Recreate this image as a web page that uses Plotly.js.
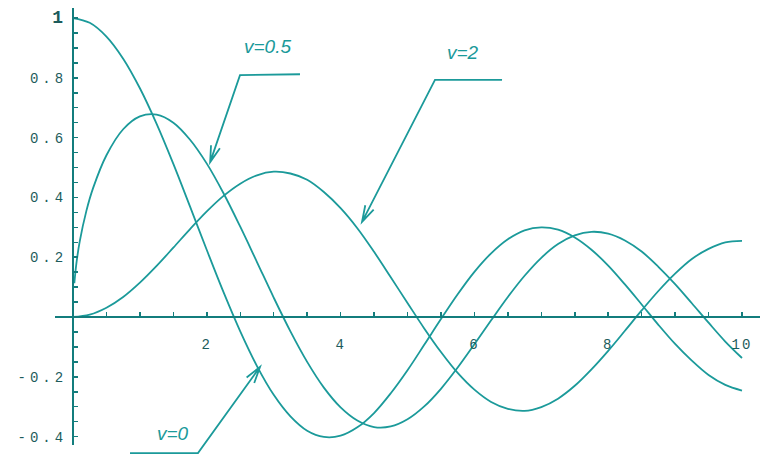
<!DOCTYPE html>
<html>
<head>
<meta charset="utf-8">
<script src="https://cdn.plot.ly/plotly-3.0.1.min.js"></script>
<style>
  html, body { margin: 0; padding: 0; background: #fff; }
  #chart { width: 761px; height: 460px; }
  .ytick text { letter-spacing: 4px; }
  .xtick text { letter-spacing: 2px; }
</style>
</head>
<body>
<div id="chart"></div>
<script>
// values (x step 0.25)
const xs = [0, 0.25, 0.5, 0.75, 1, 1.25, 1.5, 1.75, 2, 2.25, 2.5, 2.75, 3, 3.25, 3.5, 3.75,
    4, 4.25, 4.5, 4.75, 5, 5.25, 5.5, 5.75, 6, 6.25, 6.5, 6.75, 7, 7.25, 7.5, 7.75,
    8, 8.25, 8.5, 8.75, 9, 9.25, 9.5, 9.75, 10];

const nu0 = [1.000, 0.984, 0.938, 0.864, 0.765, 0.646, 0.512, 0.369, 0.224, 0.083, -0.048, -0.164,
    -0.260, -0.332, -0.380, -0.401, -0.397, -0.369, -0.321, -0.255, -0.178, -0.093, -0.007, 0.076,
    0.151, 0.213, 0.260, 0.290, 0.300, 0.292, 0.266, 0.225, 0.172, 0.109, 0.042, -0.026,
    -0.090, -0.146, -0.194, -0.227, -0.246];

const nu2 = [0.000, 0.008, 0.031, 0.067, 0.115, 0.171, 0.232, 0.294, 0.353, 0.405, 0.446, 0.474,
    0.486, 0.480, 0.459, 0.418, 0.364, 0.297, 0.218, 0.133, 0.047, -0.038, -0.117, -0.187,
    -0.243, -0.284, -0.307, -0.314, -0.301, -0.273, -0.230, -0.175, -0.113, -0.046, 0.022, 0.087,
    0.145, 0.194, 0.228, 0.250, 0.255];

// the v=0.5 curve starts just off the axis and climbs steeply
const xsHalf = [0.02, 0.05, 0.1, 0.2, 0.3, 0.5, 0.75, 1, 1.25, 1.5, 1.75, 2, 2.25, 2.5, 2.75, 3, 3.25, 3.5, 3.75,
    4, 4.25, 4.5, 4.75, 5, 5.25, 5.5, 5.75, 6, 6.25, 6.5, 6.75, 7, 7.25, 7.5, 7.75,
    8, 8.25, 8.5, 8.75, 9, 9.25, 9.5, 9.75, 10];
const nuHalf = [0.113, 0.178, 0.252, 0.355, 0.431, 0.541, 0.628, 0.671, 0.677, 0.650, 0.593, 0.513, 0.414,
    0.302, 0.184, 0.065, -0.048, -0.150, -0.236, -0.302, -0.346, -0.368, -0.366, -0.342, -0.299, -0.240,
    -0.169, -0.091, -0.011, 0.067, 0.138, 0.198, 0.244, 0.273, 0.285, 0.279, 0.256, 0.219, 0.168,
    0.110, 0.046, -0.019, -0.082, -0.137];

const xTicks = [2, 4, 6, 8, 10];
const yTicks = [-0.4, -0.2, 0.2, 0.4, 0.6, 0.8, 1];
const yTickText = ['-0.4', '-0.2', '0.2', '0.4', '0.6', '0.8', '<span style="font-size:18px"><b>1</b></span>'];

// labels with their bent leader lines: [label end, bend, arrow tip] in data units
const labels = ['v=0.5', 'v=2', 'v=0'];
const labelPos = [[2.90, 0.905], [5.83, 0.885], [1.50, -0.388]];
const leaders = [
    [[3.393, 0.812], [2.496, 0.809], [2.05, 0.518]],
    [[6.413, 0.793], [5.411, 0.793], [4.32, 0.318]],
    [[0.852, -0.455], [1.868, -0.455], [2.795, -0.167]]
];

const curveColor = '#1b9a9a';
const axisColor = '#137d7d';
const textColor = '#1d5c5c';

const xRange = [-0.269, 10.269];
const yRange = [-0.428, 1.0335];
const plotW = 705, plotH = 437;

function curve(x, y) {
    return {
        x: x, y: y,
        type: 'scatter', mode: 'lines',
        line: { color: curveColor, width: 1.8, shape: 'spline', smoothing: 1 },
        hoverinfo: 'skip'
    };
}

// data units -> paper fraction, so the leaders may run outside the plot box
function px(p) {
    return [(p[0] - xRange[0]) / (xRange[1] - xRange[0]) * plotW,
            (p[1] - yRange[0]) / (yRange[1] - yRange[0]) * plotH];
}
function paper(q) {
    return (q[0] / plotW).toFixed(4) + ',' + (q[1] / plotH).toFixed(4);
}

function leaderPath(pts) {
    const a = px(pts[0]), b = px(pts[1]), h = px(pts[2]);
    let dx = b[0] - h[0], dy = b[1] - h[1];
    const len = Math.hypot(dx, dy);
    dx /= len; dy /= len;
    const c = Math.cos(0.28), s = Math.sin(0.28), arm = 17;
    const l = [h[0] + arm * (dx * c - dy * s), h[1] + arm * (dx * s + dy * c)];
    const r = [h[0] + arm * (dx * c + dy * s), h[1] + arm * (-dx * s + dy * c)];
    return 'M' + paper(a) + ' L' + paper(b) + ' L' + paper(h) +
        ' M' + paper(l) + ' L' + paper(h) + ' L' + paper(r);
}

const data = [curve(xs, nu0), curve(xsHalf, nuHalf), curve(xs, nu2)];

const labelFont = { family: 'Liberation Sans, Arial, sans-serif', size: 19, color: curveColor };
const tickFont = { family: 'Liberation Mono, monospace', size: 14, color: textColor };

const layout = {
    width: 761, height: 460,
    margin: { l: 55, r: 1, t: 8, b: 15 },
    paper_bgcolor: '#ffffff',
    plot_bgcolor: '#ffffff',
    showlegend: false,
    xaxis: {
        range: xRange,
        anchor: 'free', position: 0.293,
        showgrid: false, zeroline: false,
        showline: true, linecolor: axisColor, linewidth: 2,
        tickmode: 'array', tickvals: xTicks,
        ticks: 'inside', ticklen: 4, tickwidth: 1.5, tickcolor: axisColor,
        minor: { dtick: 0.5, ticks: 'inside', ticklen: 4, tickwidth: 1.5, tickcolor: axisColor },
        ticklabelstandoff: 14,
        tickfont: tickFont
    },
    yaxis: {
        range: yRange,
        anchor: 'free', position: 0.0255,
        showgrid: false, zeroline: false,
        showline: true, linecolor: axisColor, linewidth: 2,
        tickmode: 'array', tickvals: yTicks, ticktext: yTickText,
        ticks: 'inside', ticklen: 4, tickwidth: 1.5, tickcolor: axisColor,
        minor: { dtick: 0.05, ticks: 'inside', ticklen: 4, tickwidth: 1.5, tickcolor: axisColor },
        ticklabelstandoff: 2,
        tickfont: tickFont
    },
    annotations: labels.map((t, i) => ({
        text: '<i>' + t + '</i>', x: labelPos[i][0], y: labelPos[i][1],
        xref: 'x', yref: 'y', showarrow: false, font: labelFont
    })),
    shapes: leaders.map(pts => ({
        type: 'path', xref: 'paper', yref: 'paper', path: leaderPath(pts),
        line: { color: curveColor, width: 1.8 }
    }))
};

Plotly.newPlot('chart', data, layout, { displayModeBar: false, staticPlot: true });
</script>
</body>
</html>
